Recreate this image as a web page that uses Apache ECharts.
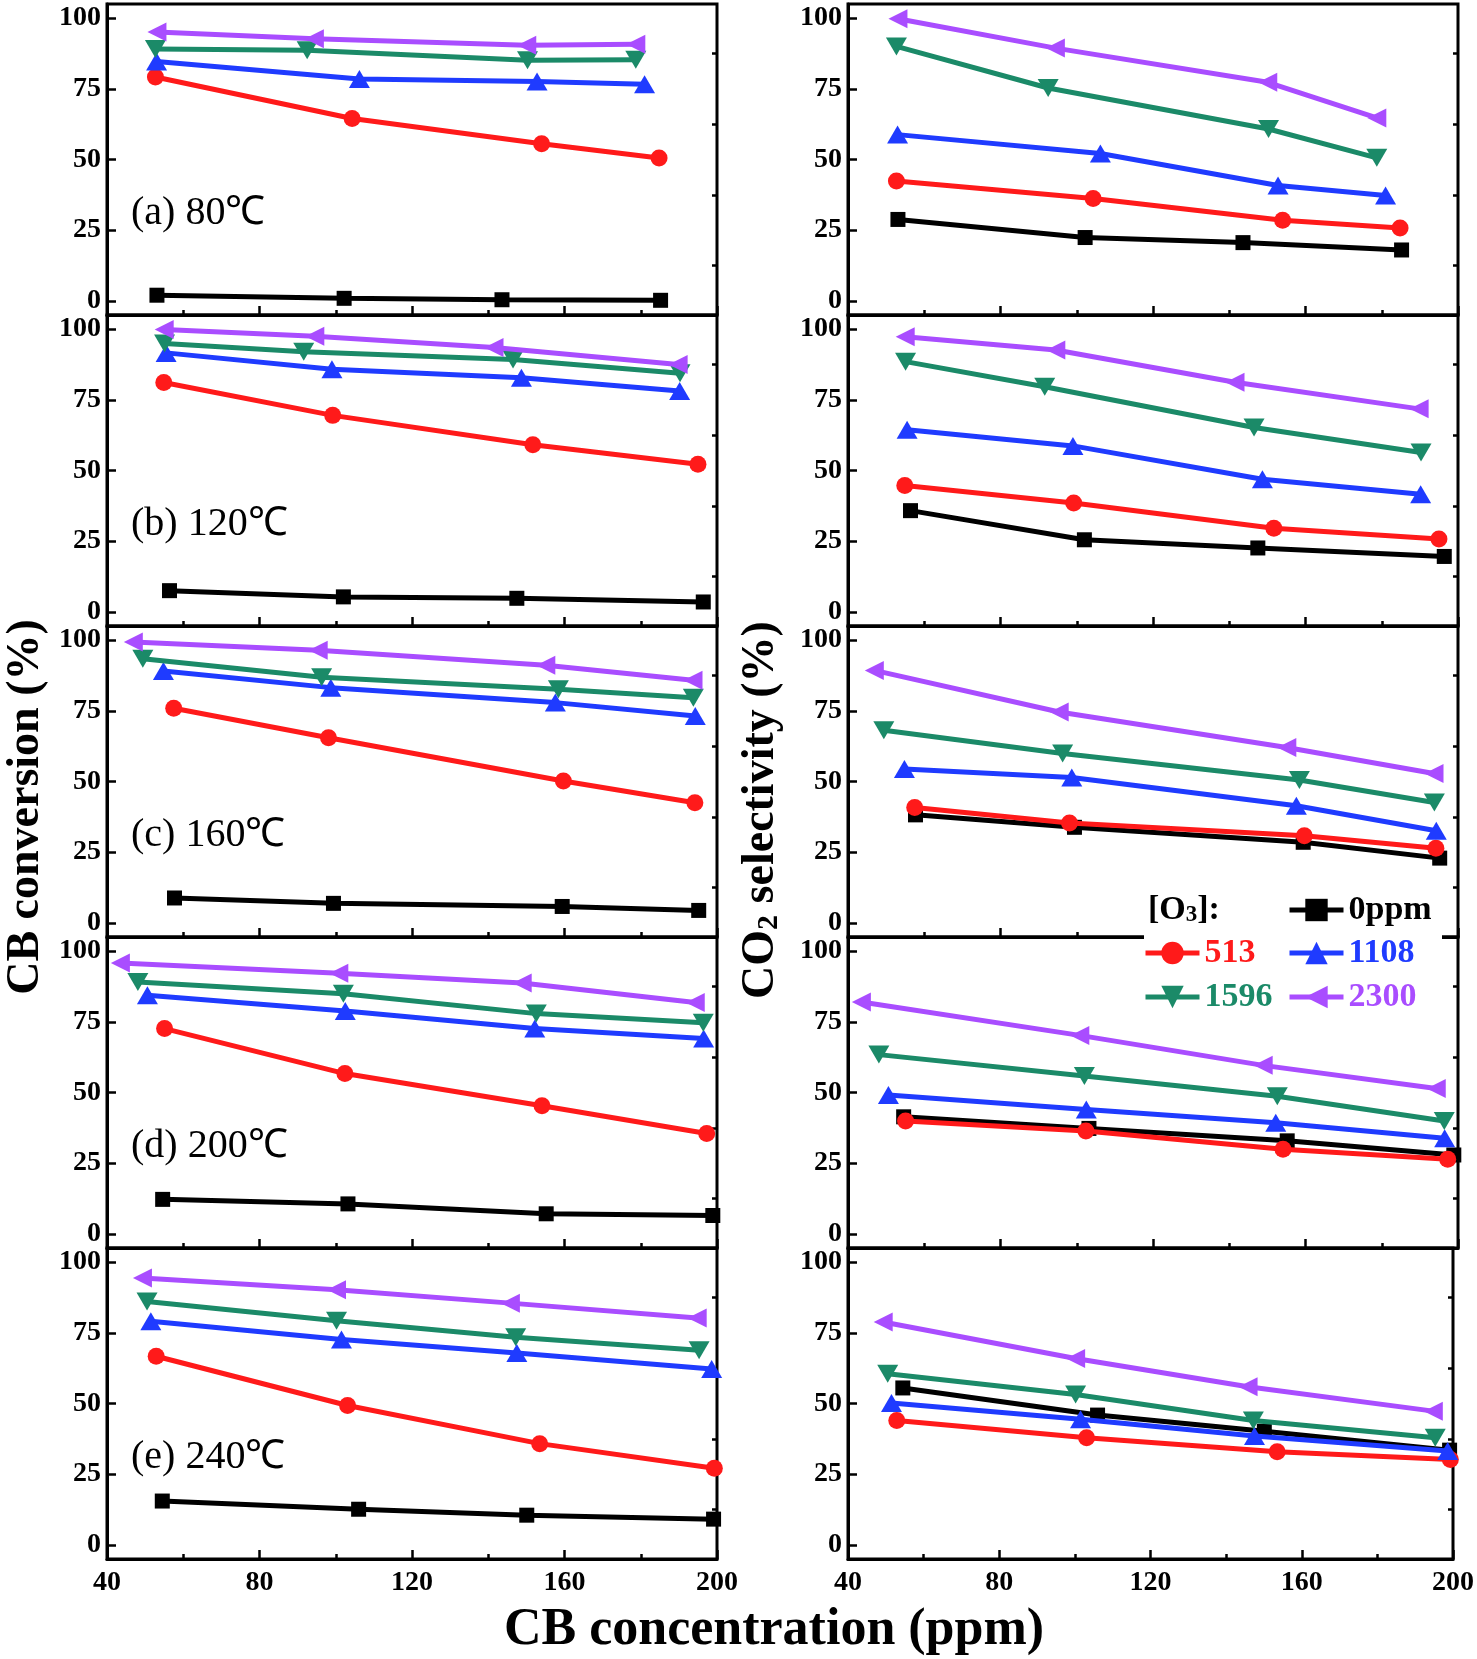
<!DOCTYPE html>
<html>
<head>
<meta charset="utf-8">
<script src="https://cdn.jsdelivr.net/npm/echarts@6/dist/echarts.min.js"></script>
<style>
html,body{margin:0;padding:0;background:#fff;}
#chart{width:1477px;height:1659px;}
</style>
</head>
<body>
<div id="chart"></div>
<script>
// ---------------- data ----------------
const seriesNames = ['0ppm', '513', '1108', '1596', '2300'];
const panelLabels = ['(a) 80℃', '(b) 120℃', '(c) 160℃', '(d) 200℃', '(e) 240℃'];
const xTicks = [40, 80, 120, 160, 200];
const yTicks = [0, 25, 50, 75, 100];
const yMinorTicks = [12.5, 37.5, 62.5, 87.5];

// CB concentration (ppm) per [O3] series, for each temperature
const x80 = [[53.1, 102.2, 143.6, 185.2], [52.7, 104.3, 154.0, 184.8], [53.0, 106.2, 152.8, 181.0], [52.7, 92.5, 150.3, 178.7], [53.1, 94.4, 150.1, 178.7]];
const x120 = [[56.4, 102.0, 147.5, 196.4], [54.9, 99.2, 151.7, 195.0], [55.5, 99.0, 148.7, 190.2], [55.1, 91.6, 146.5, 190.3], [55.0, 94.5, 141.5, 189.8]];
const x160 = [[57.7, 99.4, 159.4, 195.2], [57.5, 98.1, 159.7, 194.2], [54.8, 98.7, 157.6, 194.3], [49.4, 96.3, 158.4, 193.8], [46.9, 95.4, 155.1, 193.7]];
const x200 = [[54.6, 103.2, 155.2, 198.9], [55.1, 102.4, 154.1, 197.3], [50.6, 102.5, 152.2, 196.5], [48.1, 102.0, 152.6, 196.4], [43.5, 100.8, 148.9, 194.3]];
const x240 = [[54.5, 106.0, 150.1, 199.1], [52.9, 103.1, 153.5, 199.3], [51.5, 101.5, 147.5, 198.6], [50.5, 100.2, 147.2, 195.3], [49.3, 100.2, 145.8, 194.8]];

// CB conversion (%)
const conv80 = [[2.0, 0.9, 0.4, 0.2], [79.2, 64.5, 55.6, 50.5], [84.7, 78.5, 77.6, 76.6], [89.1, 88.6, 85.1, 85.3], [95.1, 92.7, 90.4, 90.8]];
const conv120 = [[7.5, 5.3, 4.8, 3.5], [81.1, 69.5, 59.1, 52.2], [91.6, 85.8, 82.8, 78.1], [94.9, 92.0, 89.3, 84.4], [99.9, 97.5, 93.5, 87.5]];
const conv160 = [[8.8, 6.9, 5.8, 4.4], [75.9, 65.5, 50.2, 42.5], [89.1, 83.2, 77.9, 73.2], [93.4, 86.9, 82.6, 79.6], [99.3, 96.4, 91.1, 85.8]];
const conv200 = [[12.2, 10.6, 7.1, 6.5], [72.6, 56.7, 45.3, 35.5], [84.4, 78.8, 72.6, 69.1], [89.1, 84.9, 77.9, 74.7], [95.8, 92.2, 88.7, 81.8]];
const conv240 = [[15.5, 12.6, 10.5, 9.1], [66.7, 49.3, 35.8, 27.1], [79.1, 72.6, 67.9, 62.2], [86.1, 79.3, 73.4, 68.8], [94.4, 90.2, 85.5, 80.2]];

// CO2 selectivity (%)
const sel80 = [[28.8, 22.4, 20.6, 18.0], [42.4, 36.2, 28.5, 25.8], [58.8, 52.1, 40.8, 37.3], [90.0, 75.3, 60.8, 50.6], [99.8, 89.4, 77.3, 64.7]];
const sel120 = [[35.8, 25.5, 22.6, 19.6], [44.7, 38.5, 29.6, 25.8], [64.4, 58.7, 46.9, 41.6], [88.5, 79.6, 65.2, 56.4], [97.3, 92.6, 81.2, 71.8]];
const sel160 = [[38.2, 33.8, 28.5, 22.9], [40.8, 35.3, 30.8, 26.4], [54.4, 51.4, 41.4, 32.6], [68.1, 59.9, 50.5, 42.6], [89.3, 74.6, 62.0, 52.8]];
const sel200 = [[41.4, 37.3, 32.9, 27.9], [39.9, 36.4, 29.9, 26.4], [49.1, 44.0, 39.3, 33.8], [63.4, 55.8, 48.7, 39.9], [82.0, 70.2, 59.6, 51.4]];
const sel240 = [[55.5, 45.9, 40.2, 33.5], [44.0, 37.9, 32.9, 30.2], [50.2, 44.4, 38.5, 33.2], [60.5, 53.2, 44.0, 37.9], [78.8, 65.9, 55.9, 47.3]];

const panelX = [x80, x120, x160, x200, x240];
const panelConv = [conv80, conv120, conv160, conv200, conv240];
const panelSel = [sel80, sel120, sel160, sel200, sel240];

// ---------------- style ----------------
const FONT = '"Liberation Serif", "Times New Roman", serif';
const colors = ['#000000', '#ff1a1a', '#1f3bff', '#1b8a68', '#a94dff'];
const symbols = ['rect', 'circle', 'triangle', 'triangle', 'triangle'];
const rotates = [0, 0, 0, 180, 90];
const sizes = [15, 17, [21, 18], [21, 18], [19, 19]];
const LINE_W = 5;

const GRID_TOP = 4, GRID_H = 311;
const LEFT_X = 107, RIGHT_X = 848, GRID_W = 610;

const grids = [], xAxes = [], yAxes = [], series = [];
for (let p = 0; p < 5; p++) {
  for (let side = 0; side < 2; side++) {
    const g = p * 2 + side;
    grids.push({
      left: side ? RIGHT_X : LEFT_X, top: GRID_TOP + GRID_H * p,
      width: GRID_W, height: GRID_H,
      show: true, borderColor: '#000', borderWidth: 3, backgroundColor: 'transparent'
    });
    xAxes.push({
      gridIndex: g, type: 'value', min: xTicks[0], max: xTicks[xTicks.length - 1], interval: 40,
      axisLine: { show: true, onZero: false, lineStyle: { color: '#000', width: 3 } },
      axisTick: { show: true, inside: true, length: 9, lineStyle: { color: '#000', width: 2.5 } },
      minorTick: { show: true, splitNumber: 2, length: 5, lineStyle: { color: '#000', width: 2.5 } },
      axisLabel: { show: p === 4, margin: 10, color: '#000', fontFamily: FONT, fontWeight: 'bold', fontSize: 28 },
      splitLine: { show: false }
    });
    yAxes.push({
      gridIndex: g, type: 'value', min: -5, max: 105,
      axisLine: { show: true, onZero: false, lineStyle: { color: '#000', width: 3 } },
      axisTick: { show: true, inside: true, length: 9, customValues: yTicks, lineStyle: { color: '#000', width: 2.5 } },
      axisLabel: { show: true, margin: 6, customValues: yTicks, color: '#000', fontFamily: FONT, fontWeight: 'bold', fontSize: 28 },
      splitLine: { show: false }
    });
    yAxes.push({
      gridIndex: g, type: 'value', min: -5, max: 105,
      axisLine: { show: false, onZero: false },
      axisTick: { show: true, inside: true, length: 5, customValues: yMinorTicks, lineStyle: { color: '#000', width: 2.5 } },
      axisLabel: { show: false },
      splitLine: { show: false }
    });
    const xs = panelX[p];
    const ys = side ? panelSel[p] : panelConv[p];
    for (let s = 0; s < seriesNames.length; s++) {
      series.push({
        name: seriesNames[s], type: 'line', xAxisIndex: g, yAxisIndex: g * 2,
        data: xs[s].map((v, k) => [v, ys[s][k]]),
        symbol: symbols[s], symbolSize: sizes[s], symbolRotate: rotates[s],
        showAllSymbol: true,
        lineStyle: { color: colors[s], width: LINE_W },
        itemStyle: { color: colors[s] },
        emphasis: { disabled: true },
        z: 2 + s
      });
    }
  }
}

// legends (one per entry, laid out as in the figure)
const legendPos = [
  { name: '0ppm', left: 1287, cy: 910 },
  { name: '513', left: 1143, cy: 953 },
  { name: '1108', left: 1287, cy: 953 },
  { name: '1596', left: 1143, cy: 997 },
  { name: '2300', left: 1287, cy: 997 }
];
const legends = legendPos.map((lp) => ({
  data: [{ name: lp.name, textStyle: { color: colors[seriesNames.indexOf(lp.name)] } }],
  left: lp.left, top: lp.cy - 17, padding: 0,
  itemWidth: 54, itemHeight: 28, selectedMode: false, z: 60,
  lineStyle: { width: LINE_W },
  textStyle: { fontFamily: FONT, fontWeight: 'bold', fontSize: 34 }
}));

const graphics = [
  { type: 'rect', z: 50, shape: { x: 1144, y: 888, width: 298, height: 128 }, style: { fill: '#fff' } },
  {
    type: 'text', z: 60, x: 1148, y: 910,
    style: {
      text: '[O{s|3}]:', fill: '#000', fontFamily: FONT, fontWeight: 'bold', fontSize: 34,
      align: 'left', verticalAlign: 'middle',
      rich: { s: { fontFamily: FONT, fontWeight: 'bold', fontSize: 23, verticalAlign: 'bottom', fill: '#000' } }
    }
  },
  {
    type: 'text', x: 26, y: 807, rotation: Math.PI / 2,
    style: { text: 'CB conversion (%)', fill: '#000', fontFamily: FONT, fontWeight: 'bold', fontSize: 46, align: 'center', verticalAlign: 'middle' }
  },
  {
    type: 'text', x: 761, y: 810, rotation: Math.PI / 2,
    style: {
      text: 'CO{s|2} selectivity (%)', fill: '#000', fontFamily: FONT, fontWeight: 'bold', fontSize: 46,
      align: 'center', verticalAlign: 'middle',
      rich: { s: { fontFamily: FONT, fontWeight: 'bold', fontSize: 30, verticalAlign: 'bottom', fill: '#000' } }
    }
  },
  {
    type: 'text', x: 774, y: 1631,
    style: { text: 'CB concentration (ppm)', fill: '#000', fontFamily: FONT, fontWeight: 'bold', fontSize: 52, align: 'center', verticalAlign: 'middle' }
  }
];
panelLabels.forEach((lab, p) => {
  graphics.push({
    type: 'text', z: 10, x: 131, y: GRID_TOP + GRID_H * p + 209,
    style: { text: lab, fill: '#000', fontFamily: FONT, fontWeight: 'normal', fontSize: 40, align: 'left', verticalAlign: 'middle' }
  });
});

const chart = echarts.init(document.getElementById('chart'), null, { renderer: 'canvas' });
chart.setOption({
  backgroundColor: '#fff',
  animation: false,
  grid: grids,
  xAxis: xAxes,
  yAxis: yAxes,
  legend: legends,
  graphic: { elements: graphics },
  series: series
});
</script>
</body>
</html>
